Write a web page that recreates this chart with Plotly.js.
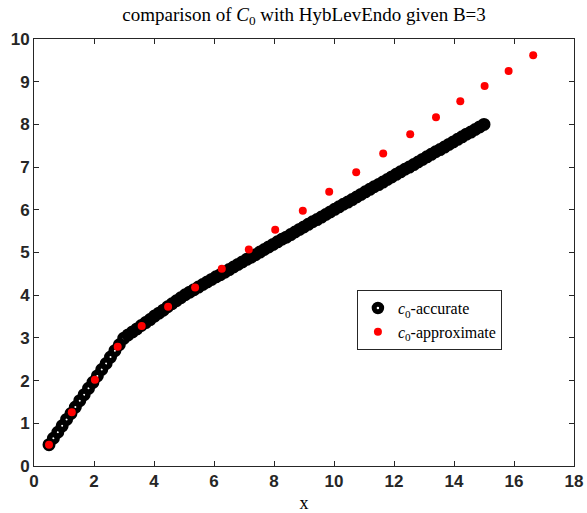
<!DOCTYPE html>
<html>
<head>
<meta charset="utf-8">
<script src="https://cdn.plot.ly/plotly-3.0.1.min.js"></script>
<style>html,body{margin:0;padding:0;background:#fff;}#chart{width:587px;height:513px;}</style>
</head>
<body>
<div id="chart"></div>
<script>
// accurate c0 (black open circles)
var accX = [0.500,0.646,0.793,0.939,1.086,1.232,1.379,1.525,1.672,1.818,
  1.965,2.111,2.258,2.404,2.551,2.697,2.843,2.990,3.136,3.283,
  3.429,3.576,3.722,3.869,4.015,4.162,4.308,4.455,4.601,4.747,
  4.894,5.040,5.187,5.333,5.480,5.626,5.773,5.919,6.066,6.212,
  6.359,6.505,6.652,6.798,6.944,7.091,7.237,7.384,7.530,7.677,
  7.823,7.970,8.116,8.263,8.409,8.556,8.702,8.848,8.995,9.141,
  9.288,9.434,9.581,9.727,9.874,10.020,10.167,10.313,10.460,10.606,
  10.753,10.899,11.045,11.192,11.338,11.485,11.631,11.778,11.924,12.071,
  12.217,12.364,12.510,12.657,12.803,12.949,13.096,13.242,13.389,13.535,
  13.682,13.828,13.975,14.121,14.268,14.414,14.561,14.707,14.854,15.000];
var accY = [0.50,0.65,0.79,0.94,1.09,1.23,1.38,1.53,1.67,1.82,
  1.96,2.11,2.26,2.40,2.55,2.70,2.84,2.99,3.07,3.14,
  3.21,3.29,3.36,3.43,3.51,3.58,3.65,3.73,3.80,3.87,
  3.94,4.01,4.07,4.13,4.19,4.25,4.31,4.37,4.43,4.48,
  4.54,4.60,4.66,4.72,4.78,4.84,4.89,4.95,5.01,5.07,
  5.13,5.19,5.25,5.31,5.36,5.42,5.48,5.54,5.60,5.66,
  5.72,5.77,5.83,5.89,5.95,6.01,6.07,6.13,6.18,6.24,
  6.30,6.36,6.42,6.48,6.54,6.59,6.65,6.71,6.77,6.83,
  6.89,6.95,7.00,7.06,7.12,7.18,7.24,7.30,7.36,7.41,
  7.47,7.53,7.59,7.65,7.71,7.77,7.82,7.88,7.94,8.00];
// approximate c0 (red dots)
var apxX = [0.50,1.26,2.03,2.79,3.59,4.47,5.37,6.26,7.16,8.04,
  8.96,9.84,10.74,11.64,12.54,13.40,14.21,15.02,15.82,16.64];
var apxY = [0.50,1.26,2.02,2.79,3.28,3.73,4.18,4.62,5.07,5.53,
  5.98,6.42,6.88,7.32,7.77,8.17,8.54,8.90,9.25,9.62];
var xTicks = [0,2,4,6,8,10,12,14,16,18];
var yTicks = [0,1,2,3,4,5,6,7,8,9,10];

var traces = [
  {x: accX, y: accY, type: 'scatter', mode: 'markers',
   name: '<i>c</i><sub>0</sub>-accurate',
   marker: {symbol: 'circle-open', size: 7.5, color: '#000', line: {width: 5.5, color: '#000'}}},
  {x: apxX, y: apxY, type: 'scatter', mode: 'markers',
   name: '<i>c</i><sub>0</sub>-approximate',
   marker: {symbol: 'circle', size: 8, color: '#ff0000'}}
];
var tickFont = {family: 'Liberation Sans, Arial, sans-serif', size: 17, color: '#262626', weight: 'bold'};
var serif = 'Liberation Serif, Times New Roman, serif';
var layout = {
  width: 587, height: 513,
  margin: {l: 34, r: 13, t: 39, b: 47},
  paper_bgcolor: '#fff', plot_bgcolor: '#fff',
  title: {text: 'comparison of <i>C</i><sub>0</sub> with HybLevEndo given B=3',
          font: {family: serif, size: 19, color: '#000'},
          x: 0.518, xanchor: 'center', y: 0.972, yanchor: 'middle'},
  xaxis: {range: [0, 18], tickvals: xTicks, ticktext: xTicks.map(String),
          showline: true, mirror: 'ticks', linecolor: '#262626', linewidth: 1,
          ticks: 'inside', ticklen: 5, tickcolor: '#262626', showgrid: false, zeroline: false,
          tickfont: tickFont,
          title: {text: 'x', font: {family: serif, size: 18, color: '#000'}, standoff: 8}},
  yaxis: {range: [0, 10], tickvals: yTicks, ticktext: yTicks.map(String),
          showline: true, mirror: 'ticks', linecolor: '#262626', linewidth: 1,
          ticks: 'inside', ticklen: 5, tickcolor: '#262626', showgrid: false, zeroline: false,
          tickfont: tickFont},
  showlegend: true,
  legend: {x: 0.598, y: 0.412, xanchor: 'left', yanchor: 'top',
           bgcolor: '#fff', bordercolor: '#262626', borderwidth: 1,
           font: {family: serif, size: 16, color: '#000'}, tracegroupgap: 0}
};
Plotly.newPlot('chart', traces, layout, {displayModeBar: false, staticPlot: true});
</script>
</body>
</html>
